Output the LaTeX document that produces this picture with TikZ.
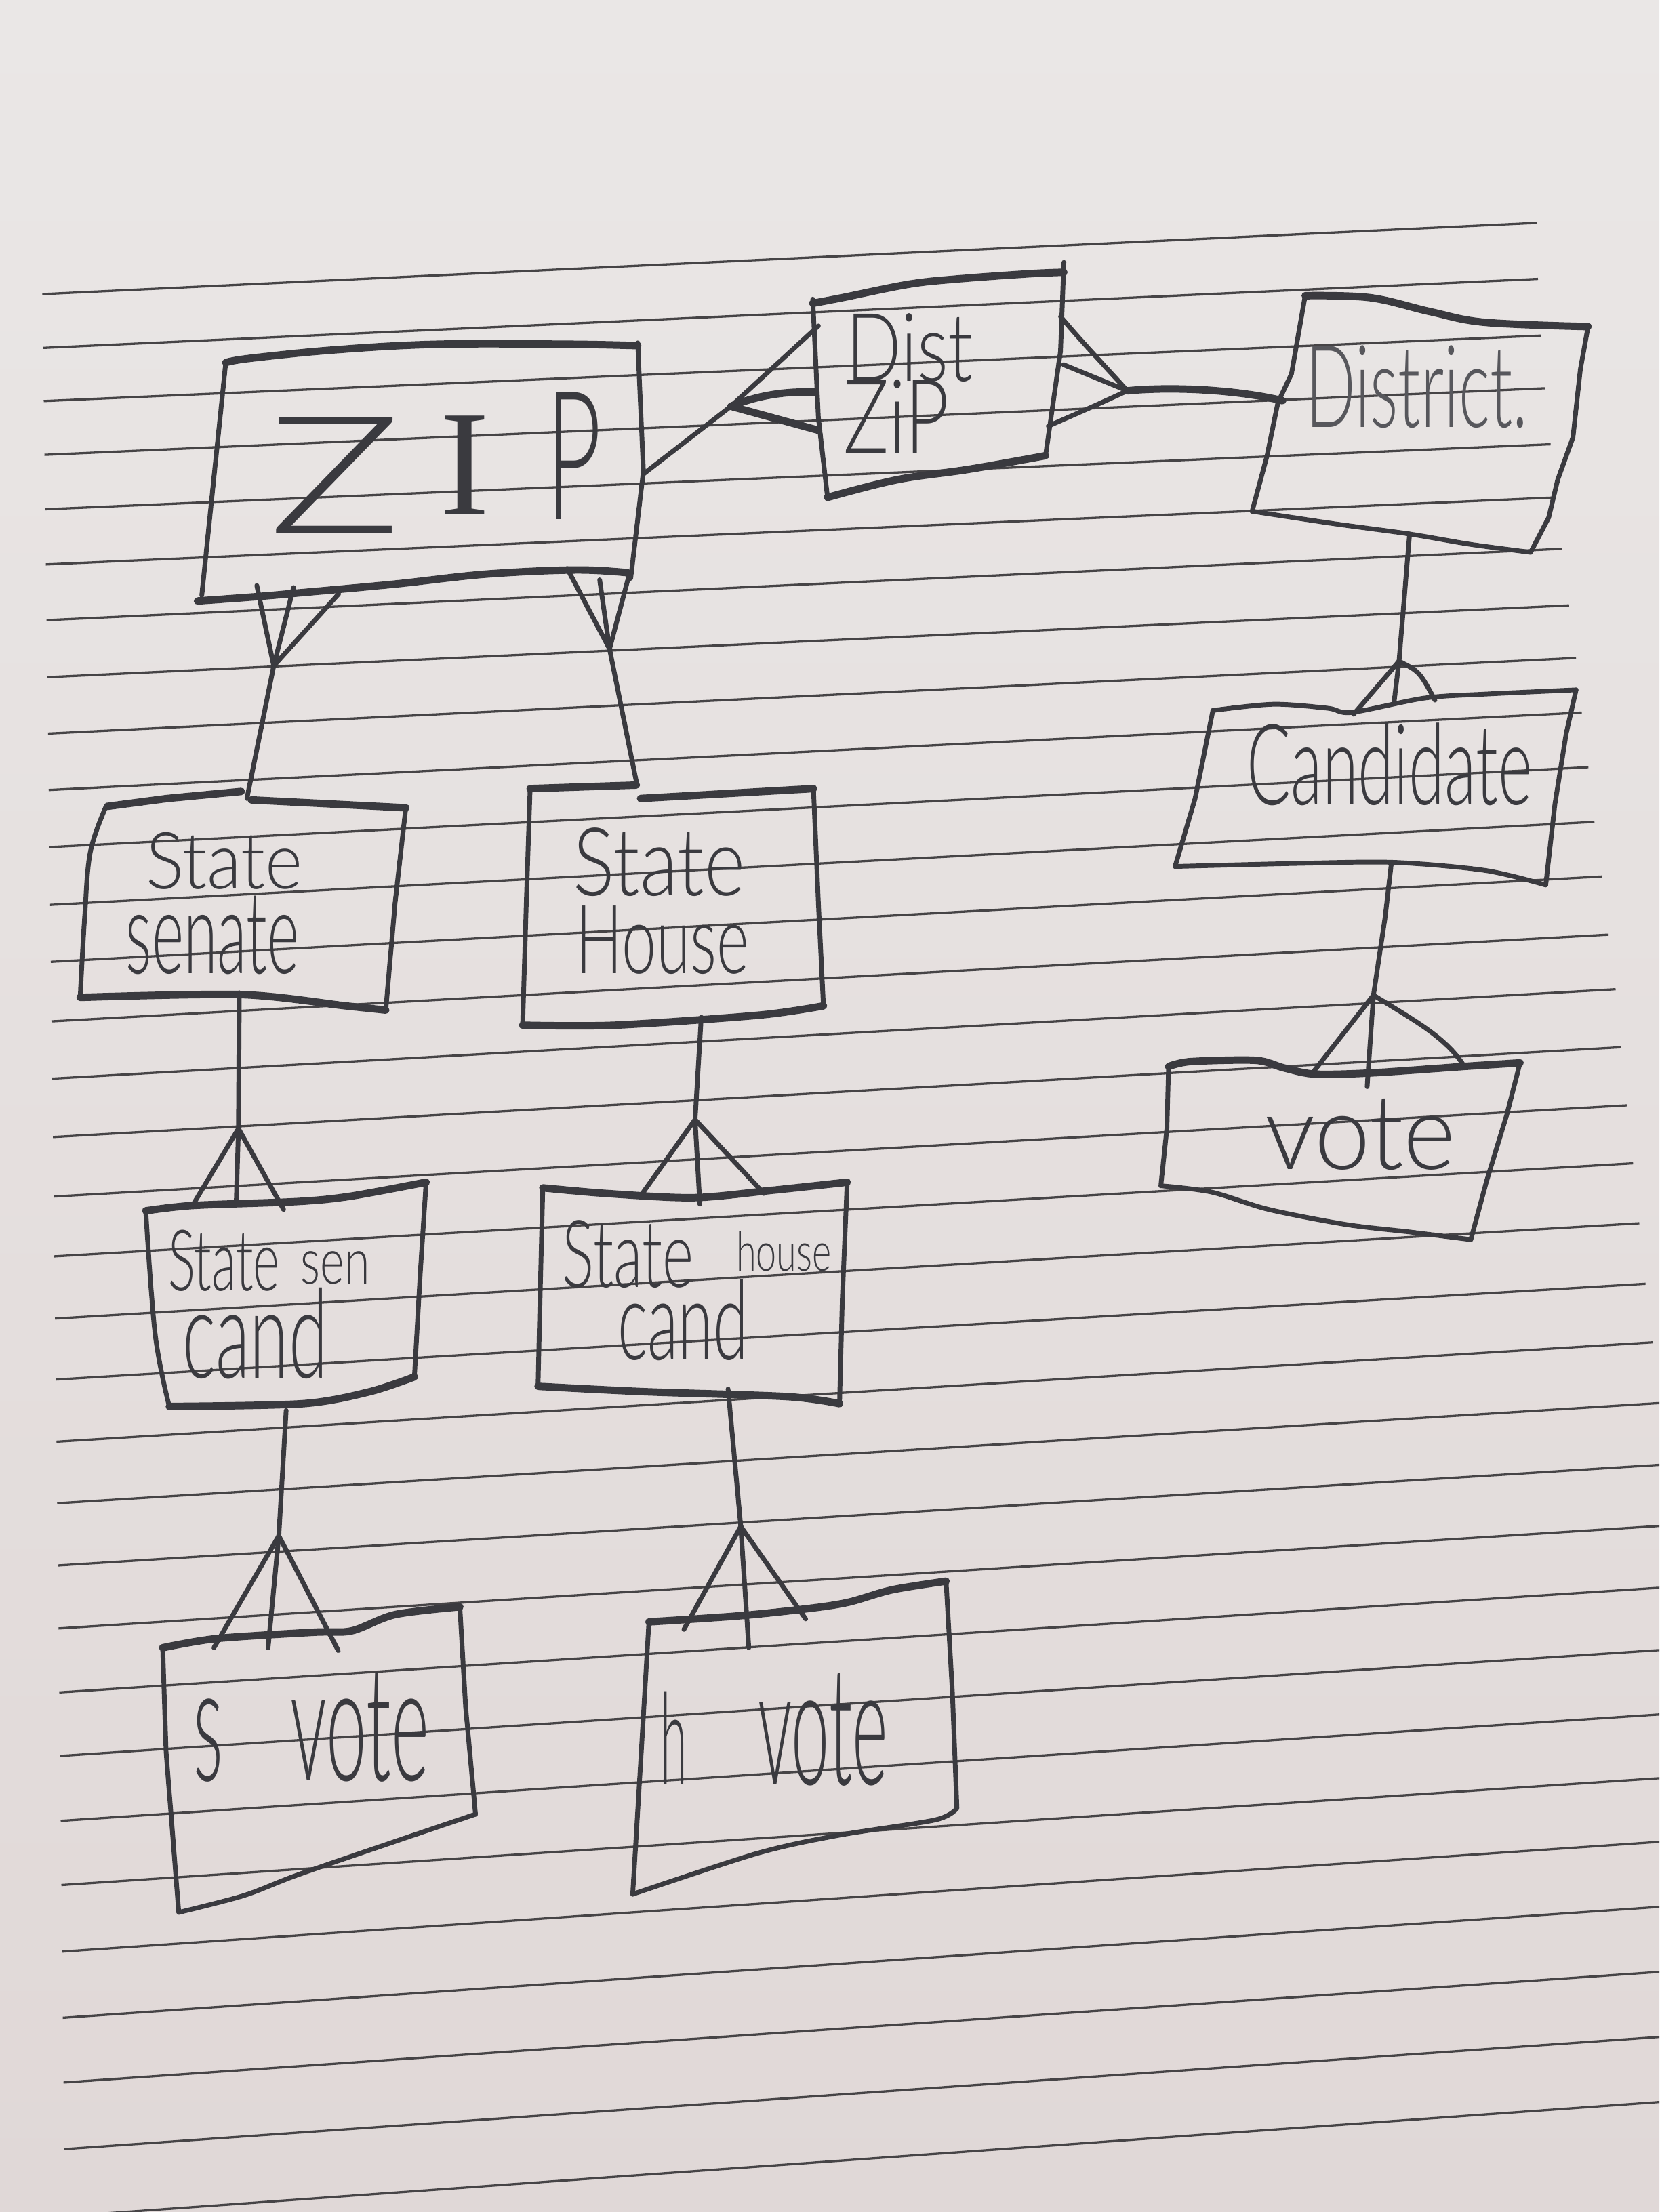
\documentclass[tikz,border=0pt]{standalone}
\usepackage{fontspec}
\setmainfont{Lato Light}
\newfontfamily\serifI{Liberation Serif}
\usepackage{graphicx}
\newdimen\hwu \hwu=0.1mm
\newcommand{\hw}[3]{\resizebox{#1\hwu}{#2\hwu}{#3}}
\definecolor{paperT}{RGB}{234,231,230}
\definecolor{paperB}{RGB}{224,216,215}
\definecolor{rulec}{RGB}{70,68,70}
\definecolor{ink}{RGB}{58,58,63}
\begin{document}
\begin{tikzpicture}[x=0.1mm,y=-0.1mm,
  pen/.style={draw=ink, line width=0.95pt, line cap=round, line join=round},
  penthick/.style={pen, line width=1.5pt},
  ruled/.style={draw=rulec, line width=0.45pt},
  lbl/.style={inner sep=0pt, anchor=base west, text=ink}]
\useasboundingbox (0,0) rectangle (1176,1568);
\shade[top color=paperT, bottom color=paperB] (0,0) rectangle (1176,1568);
% ruled paper
\begin{scope}
\clip (0,0) rectangle (1176,1568);
\foreach \xa/\ya/\xb/\yb in {30/208.5/1089/158, 30.5/246.6/1090/197.7, 31/284.3/1092/237.9,
  31.5/322.4/1095/275.2, 32/361/1099/314.9, 32.5/400.1/1102.5/352.6, 33/439.6/1107/389,
  33.5/480/1112/429.1, 34/520/1117/466.4, 34.5/560/1121/505.1, 35/600.5/1125.7/543.8,
  35.5/641.4/1130/582.6, 36/681.8/1135.3/621.3, 36.5/724/1140/662.5, 37/764.6/1145/701.2,
  37.5/806/1149/742.3, 38/848.2/1153/783.5, 38.5/890.6/1157.4/824.6, 39/934.7/1161.8/867.1,
  39.5/977.9/1166.2/910, 40/1022/1171.4/951.5, 40.5/1065.6/1180/994.3, 41/1109.7/1180/1038.1,
  41.5/1154.3/1180/1081.4, 42/1199.7/1180/1125.2, 42.5/1244.7/1180/1169.4, 43/1290.7/1180/1215,
  43.5/1336.2/1180/1260.2, 44/1383.4/1180/1305.3, 44.5/1430.3/1180/1351.4, 45/1476.2/1180/1397.5,
  45.5/1523.4/1180/1443.6, 46/1571/1180/1489.7}
  \draw[ruled] (\xa,\ya) -- (\xb,\yb);
\end{scope}

% ---------------- boxes ----------------
% ZIP
\draw[penthick] plot[smooth,tension=0.6] coordinates {(160,257) (177,254) (237,248) (310,244) (404,244) (452,245)};
\draw[pen] (452,243) -- (456,334) -- (447,410);
\draw[pen] (160,257) -- (143,422);
\draw[penthick] plot[smooth,tension=0.6] coordinates {(140,426) (181,423) (215,420) (280,414) (344,407) (408,404) (445,406)};
\node[lbl] (zip) at (190,378) {\hw{94}{82}{Z}\kern27\hwu\raisebox{13\hwu}{\resizebox{!}{70\hwu}{\serifI I}}\kern40\hwu\raisebox{10\hwu}{\hw{39}{90}{P}}};

% Dist ZiP
\draw[penthick] plot[smooth,tension=0.6] coordinates {(576,215) (597,211) (644,201.5) (679,197.7) (730,194) (754,193)};
\draw[pen] (754,186) -- (751.6,249) -- (741,323);
\draw[penthick] plot[smooth,tension=0.6] coordinates {(741,323) (687,332.6) (636,340) (586.5,352.6)};
\draw[pen] (586.5,352.6) -- (580,296) -- (576,212);
\node[lbl] (dist1) at (599,270) {\hw{90}{48}{Dist}};
\node[lbl] (dist2) at (597,321) {\hw{75}{52}{ZiP}};

% District
\draw[penthick] plot[smooth,tension=0.6] coordinates {(925,209.6) (971,211) (1014,221) (1052.6,228.5) (1125.5,231.5)};
\draw[pen] (1125.5,231.5) -- (1120,262) -- (1114.8,310) -- (1104,340) -- (1097.6,366.8) -- (1084.8,391.5);
\draw[pen] plot[smooth,tension=0.5] coordinates {(1084.8,391.5) (1041.9,385.8) (999,378.5) (945.4,371.2) (887.4,362.4)};
\draw[pen] (887.4,362.4) -- (898,323) -- (905.7,285.3) -- (915.3,265) -- (925,209.6);
\node[lbl, text=ink!85] (district) at (925,302.7) {\hw{157}{58}{District.}};

% Candidate
\draw[pen] plot[smooth,tension=0.5] coordinates {(859.6,503.6) (902.5,499.2) (941,502) (958,505) (1009.7,494.8) (1052.6,492) (1117,489)};
\draw[pen] (1117,489) -- (1110,520) -- (1102,570) -- (1095.5,627.3);
\draw[pen] plot[smooth,tension=0.5] coordinates {(1095.5,627.3) (1052.6,617) (988,611.3) (920,612) (832.8,614.2)};
\draw[pen] (832.8,614.2) -- (847,566) -- (859.6,503.6);
\node[lbl] (cand) at (883,570.5) {\hw{202}{58}{Candidate}};

% vote (right)
\draw[penthick] plot[smooth,tension=0.5] coordinates {(828.2,756) (843.8,752.5) (889.8,751.6) (910,757) (932,761.4) (972.5,760.5) (1036.9,756) (1077.3,753.4)};
\draw[pen] (1077.3,753.4) -- (1068,789.8) -- (1053.4,837.8) -- (1042.4,878.7);
\draw[pen] plot[smooth,tension=0.5] coordinates {(1042.4,878.7) (1000,873.4) (954,868) (899,857.3) (858.6,845) (822.7,840.5)};
\draw[pen] (822.7,840.5) -- (827,800) -- (828.2,756);
\node[lbl] (vote) at (896,829) {\hw{135}{50}{vote}};

% State Senate
\draw[penthick] (76,571.6) -- (118.5,566) -- (171,561);
\draw[penthick] (178,567) -- (287.6,572.6);
\draw[pen] (287.6,572.6) -- (280,640) -- (273.4,716);
\draw[penthick] plot[smooth,tension=0.5] coordinates {(273.4,716) (245,713) (171,705) (56.8,707)};
\draw[pen] plot[smooth,tension=0.6] coordinates {(56.8,707) (60,650) (64,604) (75,572)};
\node[lbl] (ssenA) at (102.7,630) {\hw{111}{40}{State}};
\node[lbl] (ssenB) at (88.5,690) {\hw{123}{55}{senate}};

% State House
\draw[penthick] (375.7,559) -- (451,556.5);
\draw[penthick] (454,566) -- (576.5,559);
\draw[pen] (576.5,559) -- (580,640) -- (583.6,713);
\draw[penthick] plot[smooth,tension=0.5] coordinates {(583.6,713) (537.8,719.6) (435.6,726.7) (370.4,726.7)};
\draw[pen] (370.4,726.7) -- (373,640) -- (375.7,559);
\node[lbl] (shouseA) at (405.6,634.8) {\hw{121.6}{48}{State}};
\node[lbl] (shouseB) at (407.4,690) {\hw{123}{48}{House}};

% State sen cand
\draw[penthick] plot[smooth,tension=0.5] coordinates {(103.3,858.3) (137,854.5) (211,851.7) (248,848) (302,838)};
\draw[pen] (302,838) -- (298,900) -- (293.7,976);
\draw[penthick] plot[smooth,tension=0.5] coordinates {(293.7,976) (261.7,986.6) (214.5,995) (120,997)};
\draw[pen] plot[smooth,tension=0.6] coordinates {(120,997) (110,946) (103.3,858.3)};
\node[lbl] (sscA) at (118.5,915) {\hw{79}{43}{State}\kern15\hwu\raisebox{5\hwu}{\hw{49}{23}{sen}}};
\node[lbl] (sscB) at (128.6,977) {\hw{103}{64}{cand}};

% State house cand
\draw[penthick] plot[smooth,tension=0.5] coordinates {(384.7,842) (430,846) (491,849) (544.8,844) (600.4,838)};
\draw[pen] (600.4,838) -- (597,920) -- (595,995);
\draw[penthick] plot[smooth,tension=0.5] coordinates {(595,995) (558,990) (457,986.5) (381.3,982.7)};
\draw[pen] (381.3,982.7) -- (383,910) -- (384.7,842);
\node[lbl] (shcA) at (398,912.5) {\hw{93}{47.5}{State}\kern30\hwu\raisebox{11.5\hwu}{\hw{67.4}{28}{house}}};
\node[lbl] (shcB) at (437,963.7) {\hw{92.6}{57}{cand}};

% s vote
\draw[penthick] plot[smooth,tension=0.5] coordinates {(115.3,1168) (153.5,1161.5) (222.4,1157) (249.3,1156) (280,1144.5) (325.9,1139)};
\draw[pen] (325.9,1139) -- (330,1210) -- (337,1286);
\draw[pen] plot[smooth,tension=0.5] coordinates {(337,1286) (280,1305.3) (211,1329) (172.7,1343.7) (126.7,1355.6)};
\draw[pen] (126.7,1355.6) -- (117.7,1241.6) -- (115.3,1168);
\node[lbl] (svote) at (136.3,1262) {\hw{21}{58}{s}\kern48\hwu\hw{98}{77}{vote}};

% h vote
\draw[penthick] plot[smooth,tension=0.5] coordinates {(459.9,1149.7) (525,1145.3) (574.8,1140) (601.6,1135.7) (632,1127) (670.5,1120.8)};
\draw[pen] (670.5,1120.8) -- (675,1200) -- (678.2,1281.7);
\draw[pen] plot[smooth,tension=0.5] coordinates {(678.2,1281.7) (662.9,1290) (594,1301) (536.5,1313.8) (448.4,1342.7)};
\draw[pen] (448.4,1342.7) -- (454,1250) -- (459.9,1149.7);
\node[lbl] (hvote) at (467.6,1265) {\hw{19}{66}{h}\kern50\hwu\hw{92}{79}{vote}};

% ---------------- connectors ----------------
% ZIP -- Dist ZiP
\coordinate (zipE) at (456,336);
\coordinate (fA) at (518,288);
\coordinate (dzW1) at (580,231);
\coordinate (dzW2) at (578,278);
\coordinate (dzW3) at (580,305);
\draw[pen] (zipE) -- (fA);
\draw[pen] (fA) -- (dzW1);
\draw[penthick] (fA) .. controls (535,281) and (555,277) .. (dzW2);
\draw[penthick] (fA) -- (dzW3);
% Dist ZiP -- District
\coordinate (fB) at (799,277);
\coordinate (dzE1) at (751.6,224.4);
\coordinate (dzE2) at (753.8,258.5);
\coordinate (dzE3) at (743,302);
\coordinate (distW) at (909,284);
\draw[pen] (dzE1) .. controls (765,240) .. (fB);
\draw[pen] (dzE2) -- (fB);
\draw[pen] (dzE3) .. controls (775,288) .. (fB);
\draw[penthick] (fB) .. controls (830,274) and (875,276) .. (distW);
% ZIP -- State Senate
\coordinate (fC) at (194,472);
\coordinate (zS1) at (182,415);
\coordinate (zS2) at (208,416.5);
\coordinate (zS3) at (240,421);
\coordinate (ssenN) at (175,566);
\draw[pen] (zS1) -- (fC) -- (zS3);
\draw[pen] (zS2) -- (fC);
\draw[pen] (fC) -- (ssenN);
% ZIP -- State House
\coordinate (fD) at (432,460);
\coordinate (zH1) at (402,403);
\coordinate (zH2) at (425,411);
\coordinate (zH3) at (446,407);
\coordinate (shouseN) at (451.5,556.6);
\draw[pen] (zH1) -- (fD) -- (zH3);
\draw[pen] (zH2) -- (fD);
\draw[pen] (fD) -- (shouseN);
% District -- Candidate
\coordinate (distS) at (999,378.5);
\coordinate (fE) at (991.5,468.7);
\coordinate (cN1) at (959.3,506.3);
\coordinate (cN2) at (988,497.7);
\coordinate (cN3) at (1017,496.3);
\draw[pen] (distS) -- (fE);
\draw[pen] (fE) -- (cN1);
\draw[pen] (fE) -- (cN2);
\draw[pen] (fE) .. controls (1006,476) .. (cN3);
% Candidate -- vote
\coordinate (candS) at (986,612.7);
\coordinate (fF) at (973.4,705.4);
\coordinate (vN1) at (931,759.5);
\coordinate (vN2) at (968.9,770.3);
\coordinate (vN3) at (1037.8,756);
\draw[pen] (candS) -- (981.7,650) -- (fF);
\draw[pen] (fF) -- (vN1);
\draw[pen] (fF) -- (vN2);
\draw[pen] (fF) .. controls (1000,722) and (1025,735) .. (vN3);
% State Senate -- State sen cand
\coordinate (ssenS) at (169.6,703.7);
\coordinate (fG) at (169,800);
\coordinate (sc1) at (137,853.6);
\coordinate (sc2) at (167.4,853.6);
\coordinate (sc3) at (201,857.4);
\draw[pen] (ssenS) -- (fG);
\draw[pen] (sc1) -- (fG) -- (sc3);
\draw[pen] (fG) -- (sc2);
% State House -- State house cand
\coordinate (shouseS) at (497,721);
\coordinate (fH) at (492.6,793.6);
\coordinate (hc1) at (453.8,848);
\coordinate (hc2) at (496,853.6);
\coordinate (hc3) at (541.4,846);
\draw[pen] (shouseS) -- (fH);
\draw[pen] (hc1) -- (fH) -- (hc3);
\draw[pen] (fH) -- (hc2);
% State sen cand -- s vote
\coordinate (sscS) at (202.8,999.8);
\coordinate (fI) at (197.6,1088.6);
\coordinate (sv1) at (151.6,1168);
\coordinate (sv2) at (190,1168);
\coordinate (sv3) at (239.7,1170);
\draw[pen] (sscS) -- (fI);
\draw[pen] (sv1) -- (fI) -- (sv3);
\draw[pen] (fI) -- (sv2);
% State house cand -- h vote
\coordinate (shcS) at (516,984.6);
\coordinate (fJ) at (525,1082);
\coordinate (hv1) at (484.7,1155);
\coordinate (hv2) at (530.7,1168);
\coordinate (hv3) at (571,1147.6);
\draw[pen] (shcS) -- (fJ);
\draw[pen] (hv1) -- (fJ) -- (hv3);
\draw[pen] (fJ) -- (hv2);
\end{tikzpicture}
\end{document}
